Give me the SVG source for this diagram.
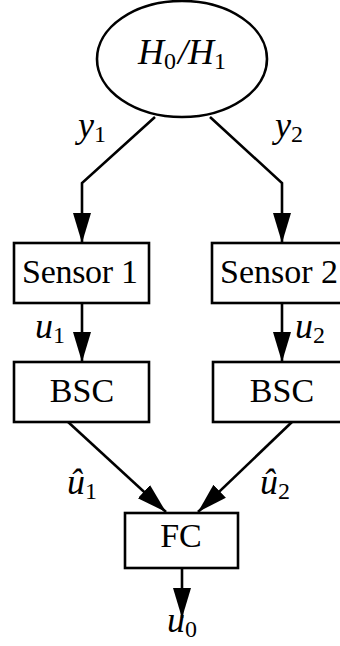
<svg xmlns="http://www.w3.org/2000/svg" width="340" height="646" viewBox="0 0 340 646">
<defs>
<marker id="ah" markerUnits="userSpaceOnUse" markerWidth="32" markerHeight="22" refX="30" refY="10" orient="auto">
<path d="M0,1 L30,10 L0,19 Z" fill="#000"/>
</marker>
<style>
.n{fill:#fff;stroke:#000;stroke-width:2.6}
.c{fill:none;stroke:#000;stroke-width:2.6;marker-end:url(#ah)}
.t{font-family:"Liberation Serif","DejaVu Serif",serif;font-size:34px;fill:#000}
.m{font-family:"Liberation Serif","DejaVu Serif",serif;font-size:36px;font-style:italic;fill:#000}
.s{font-size:24px;font-style:normal}
</style>
</defs>
<rect width="340" height="646" fill="#fff"/>
<g id="connectors">
<path class="c" d="M155,117 L82,183 L82,243"/>
<path class="c" d="M210,117 L282,183 L282,243"/>
<path class="c" d="M82,303 L82,362"/>
<path class="c" d="M282,303 L282,362"/>
<path class="c" d="M67,421 L166,512"/>
<path class="c" d="M293,421 L198,512"/>
<path class="c" d="M182,568 L182,618"/>
</g>
<g id="labels">
<text class="m" x="78" y="137">y<tspan class="s" dy="5">1</tspan></text>
<text class="m" x="275" y="137">y<tspan class="s" dy="5">2</tspan></text>
<text class="m" x="35" y="338">u<tspan class="s" dy="5">1</tspan></text>
<text class="m" x="295" y="338">u<tspan class="s" dy="5">2</tspan></text>
<text class="m" x="67" y="494">û<tspan class="s" dy="5">1</tspan></text>
<text class="m" x="260" y="494">û<tspan class="s" dy="5">2</tspan></text>
<text class="m" x="167" y="632">u<tspan class="s" dy="5">0</tspan></text>
</g>
<g id="hyp">
<ellipse class="n" cx="182" cy="59" rx="85" ry="58"/>
<text class="m" x="182" y="64" text-anchor="middle">H<tspan class="s" dy="5">0</tspan><tspan dy="-5" dx="2">/H</tspan><tspan class="s" dy="5">1</tspan></text>
</g>
<g id="sensor1">
<rect class="n" x="14" y="243" width="135" height="60"/>
<text class="t" x="22" y="283" textLength="116">Sensor 1</text>
</g>
<g id="sensor2">
<rect class="n" x="212" y="243" width="132" height="60"/>
<text class="t" x="220" y="283" textLength="118">Sensor 2</text>
</g>
<g id="bsc1">
<rect class="n" x="14" y="362" width="135" height="60"/>
<text class="t" x="82" y="402" text-anchor="middle">BSC</text>
</g>
<g id="bsc2">
<rect class="n" x="213" y="362" width="131" height="60"/>
<text class="t" x="282" y="402" text-anchor="middle">BSC</text>
</g>
<g id="fc">
<rect class="n" x="125" y="513" width="113" height="55"/>
<text class="t" x="181" y="547" text-anchor="middle">FC</text>
</g>
</svg>
